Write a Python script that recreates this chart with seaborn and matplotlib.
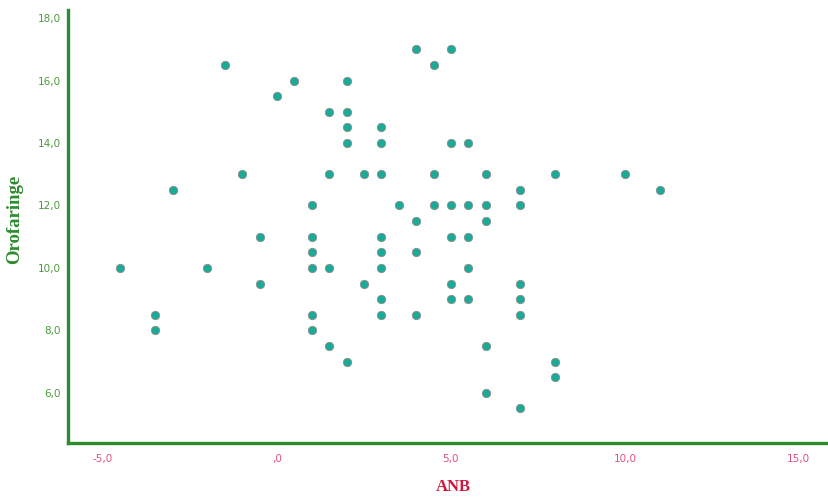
import matplotlib
matplotlib.use("Agg")
import matplotlib.pyplot as plt
import seaborn as sns
import pandas as pd
from matplotlib.ticker import FuncFormatter, FixedLocator

anb = [-1.5, 0.5, 0, 2, 4, 5, 4.5, 1.5, 2, 2, 2, 3, 3, 5, 5.5,
       -3, -1, 1.5, 2.5, 3, 4.5, 6, 8, 10, 11, 7,
       1, 3.5, 4.5, 5, 5.5, 6, 7, 4, 6,
       -0.5, 1, 3, 5, 5.5, 1, 3, 4,
       -4.5, -2, 1, 1.5, 3, 5.5,
       -0.5, 2.5, 5, 7, 3, 5, 5.5, 7,
       -3.5, -3.5, 1, 3, 4, 7, 1, 1.5, 6, 2, 8, 8, 6, 7]
orofaringe = [16.5, 16, 15.5, 16, 17, 17, 16.5, 15, 15, 14.5, 14, 14.5, 14, 14, 14,
              12.5, 13, 13, 13, 13, 13, 13, 13, 13, 12.5, 12.5,
              12, 12, 12, 12, 12, 12, 12, 11.5, 11.5,
              11, 11, 11, 11, 11, 10.5, 10.5, 10.5,
              10, 10, 10, 10, 10, 10,
              9.5, 9.5, 9.5, 9.5, 9, 9, 9, 9,
              8.5, 8, 8.5, 8.5, 8.5, 8.5, 8, 7.5, 7.5, 7, 7, 6.5, 6, 5.5]

df = pd.DataFrame({"ANB": anb, "Orofaringe": orofaringe})

sns.set_style("white")
fig = plt.figure(figsize=(8.29, 4.97), dpi=100)
ax = fig.add_axes([0.082, 0.109, 0.918, 0.871])

sns.scatterplot(data=df, x="ANB", y="Orofaringe", ax=ax, s=36,
                color="#1aab98", edgecolor="#8c8c8c", linewidth=0.6, zorder=3)

ax.set_xlim(-6.01, 15.87)
ax.set_ylim(4.4, 18.26)

def fmt(v, pos):
    s = f"{v:.1f}".replace(".", ",")
    if s.startswith("0,"):
        s = s[1:]
    return s

ax.xaxis.set_major_locator(FixedLocator([-5, 0, 5, 10, 15]))
ax.yaxis.set_major_locator(FixedLocator([6, 8, 10, 12, 14, 16, 18]))
ax.xaxis.set_major_formatter(FuncFormatter(fmt))
ax.yaxis.set_major_formatter(FuncFormatter(fmt))
ax.tick_params(axis="x", length=0, colors="#e0507a", labelsize=7.5, pad=8)
ax.tick_params(axis="y", length=0, colors="#4a9a3a", labelsize=7.5, pad=5)

for side in ["top", "right"]:
    ax.spines[side].set_visible(False)
for side in ["left", "bottom"]:
    ax.spines[side].set_color("#2e8b2e")
    ax.spines[side].set_linewidth(2.4)

ax.set_xlabel("ANB", fontsize=12, fontweight="bold", family="Liberation Serif",
              color="#d0143c", va="center")
ax.set_ylabel("Orofaringe", fontsize=13.5, fontweight="bold", family="Liberation Serif",
              color="#2e8b2e", va="center")
ax.xaxis.set_label_coords(0.506, -0.102)
ax.yaxis.set_label_coords(-0.0697, 0.517)

fig.savefig("out.png", dpi=100)
